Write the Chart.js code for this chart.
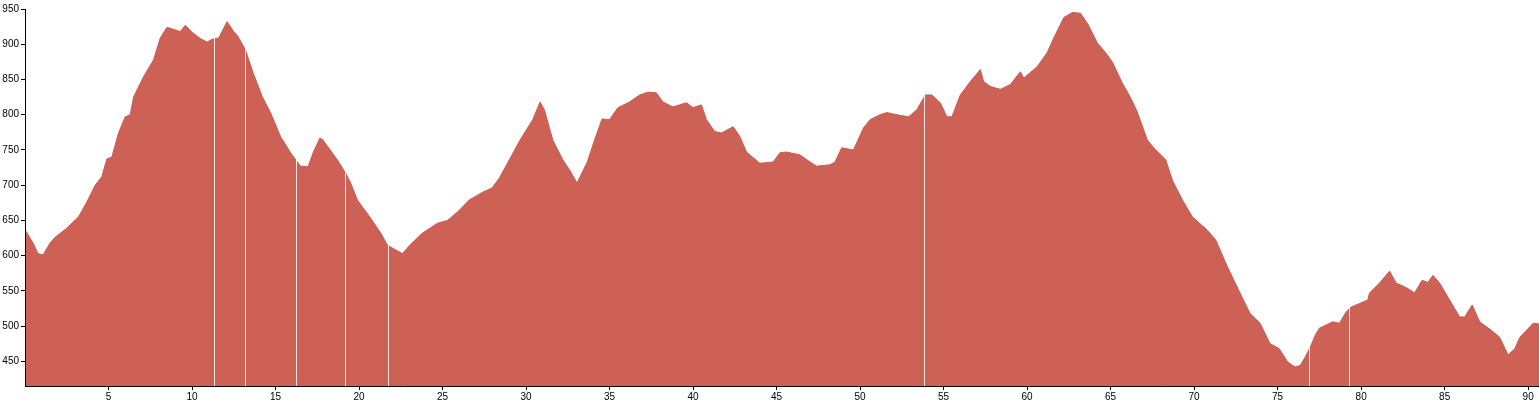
<!DOCTYPE html>
<html lang="en">
<head>
    <meta charset="UTF-8">
    <title>Elevation Profile</title>
    <script src="https://cdn.jsdelivr.net/npm/chart.js@4.4.1/dist/chart.umd.min.js"></script>
    <style>
        html, body { margin: 0; padding: 0; background: #fff; }
        #wrap { width: 1539px; height: 410px; }
    </style>
</head>
<body>
    <div id="wrap">
        <canvas id="profileChart" width="1539" height="410"></canvas>
    </div>
    <script>
// distance along the route (km)
var distKm = [
    0.0, 0.48, 0.78, 1.08, 1.5, 1.8, 2.5, 3.2, 3.7, 4.2, 4.6, 4.9, 5.2, 5.6, 6.0, 6.3, 6.5, 7.1, 7.7, 8.1,
    8.5, 9.3, 9.6, 10.0, 10.5, 10.9, 11.2, 11.6, 12.1, 12.5, 12.75, 13.2, 13.65, 14.2, 14.7, 15.3, 15.9, 16.3, 16.5, 16.95,
    17.25, 17.66, 17.84, 18.7, 19.2, 19.5, 19.9, 20.7, 21.3, 21.7, 22.2, 22.6, 23.05, 23.8, 24.7, 25.3, 25.9, 26.6, 27.4, 27.96,
    28.4, 29.0, 29.64, 30.4, 30.84, 31.1, 31.6, 32.2, 32.6, 33.05, 33.65, 34.1, 34.55, 35.0, 35.5, 36.2, 36.8, 37.3, 37.8, 38.2,
    38.8, 39.6, 40.0, 40.5, 40.8, 41.3, 41.7, 42.4, 42.8, 43.2, 44.0, 44.8, 45.2, 45.6, 46.4, 47.0, 47.4, 48.2, 48.5, 48.9,
    49.6, 50.2, 50.6, 51.2, 51.6, 52.2, 52.9, 53.4, 53.9, 54.3, 54.8, 55.2, 55.5, 56.0, 56.6, 57.2, 57.4, 57.8, 58.4, 59.0,
    59.6, 59.8, 60.6, 61.2, 61.6, 62.2, 62.7, 63.2, 63.65, 64.2, 64.8, 65.1, 65.7, 66.2, 66.6, 67.2, 67.7, 68.3, 68.7, 69.3,
    69.9, 70.8, 71.3, 72.0, 72.75, 73.35, 73.95, 74.55, 75.1, 75.6, 76.05, 76.35, 76.65, 76.95, 77.25, 77.5, 78.3, 78.7, 79.1, 79.4,
    79.9, 80.4, 80.5, 81.1, 81.7, 82.1, 82.75, 83.2, 83.65, 84.0, 84.3, 84.7, 85.3, 85.9, 86.2, 86.65, 87.1, 87.8, 88.3, 88.8,
    89.2, 89.5, 90.3, 90.7
];

// elevation (m)
var elevM = [
    637, 618, 603, 601, 618, 626, 639, 655, 676, 700, 712, 737, 740, 774, 797, 800, 825, 854, 878, 909,
    924, 918, 927, 917, 908, 903, 907, 909, 932, 918, 911, 892, 860, 826, 803, 769, 746, 733, 727, 726,
    746, 767, 764, 736, 717, 703, 679, 653, 632, 615, 608, 603, 615, 632, 646, 650, 662, 679, 690, 696,
    710, 736, 764, 793, 818, 807, 764, 736, 722, 703, 732, 764, 794, 793, 810, 818, 828, 832, 831, 818,
    811, 817, 810, 814, 793, 776, 774, 783, 769, 747, 731, 733, 746, 747, 743, 733, 727, 729, 733, 753,
    750, 781, 793, 800, 803, 800, 797, 807, 828, 828, 817, 797, 797, 828, 847, 864, 847, 840, 836, 843,
    861, 852, 868, 888, 909, 938, 945, 944, 928, 902, 885, 875, 845, 824, 804, 764, 750, 736, 707, 679,
    655, 636, 622, 584, 547, 518, 504, 475, 468, 449, 442, 444, 456, 470, 487, 497, 506, 504, 520, 527,
    532, 537, 547, 561, 578, 561, 554, 547, 565, 562, 572, 561, 537, 513, 513, 530, 506, 494, 484, 459,
    468, 484, 504, 503
];

// positions of the thin breaks in the profile (km)
var breakKm = [11.3, 13.2, 16.2, 19.15, 21.75, 53.8, 76.9, 79.3];

var xTicks = [5, 10, 15, 20, 25, 30, 35, 40, 45, 50, 55, 60, 65, 70, 75, 80, 85, 90];
var yTicks = [450, 500, 550, 600, 650, 700, 750, 800, 850, 900, 950];

var points = distKm.map(function (d, i) { return { x: d, y: elevM[i] }; });

// white break lines, painted only over the filled area
var breakLines = {
    id: 'breakLines',
    afterDatasetsDraw: function (chart) {
        var ctx = chart.ctx;
        var area = chart.chartArea;
        var xs = chart.scales.x;
        ctx.save();
        ctx.beginPath();
        ctx.rect(area.left, area.top, area.right - area.left, area.bottom - area.top);
        ctx.clip();
        ctx.globalCompositeOperation = 'source-atop';
        ctx.strokeStyle = 'rgba(255, 255, 255, 0.85)';
        ctx.lineWidth = 1;
        breakKm.forEach(function (k) {
            var px = Math.round(xs.getPixelForValue(k)) + 0.5;
            ctx.beginPath();
            ctx.moveTo(px, area.top);
            ctx.lineTo(px, area.bottom);
            ctx.stroke();
        });
        ctx.restore();
    }
};

var tickFont = { family: '"Liberation Sans", Arial, sans-serif', size: 10 };

var ctx = document.getElementById('profileChart').getContext('2d');
var profileChart = new Chart(ctx, {
    type: 'line',
    data: {
        datasets: [
            {
                label: 'Elevation',
                data: points,
                backgroundColor: '#cd6155',
                borderColor: '#c95c50',
                borderWidth: 1,
                pointRadius: 0,
                tension: 0,
                fill: 'start'
            }
        ]
    },
    options: {
        responsive: false,
        animation: false,
        events: [],
        layout: { padding: { top: 9, right: 0, left: 0, bottom: 0 } },
        plugins: {
            legend: { display: false },
            tooltip: { enabled: false }
        },
        scales: {
            x: {
                type: 'linear',
                min: 0,
                max: 90.65,
                afterBuildTicks: function (scale) {
                    scale.ticks = xTicks.map(function (v) { return { value: v }; });
                },
                afterFit: function (scale) { scale.height = 24; },
                grid: { drawOnChartArea: false, color: '#000', tickLength: 4 },
                border: { color: '#000', width: 1, z: 1 },
                ticks: { color: '#000', font: tickFont, padding: 1, maxRotation: 0, autoSkip: false }
            },
            y: {
                min: 415,
                max: 950,
                afterBuildTicks: function (scale) {
                    scale.ticks = yTicks.map(function (v) { return { value: v }; });
                },
                afterFit: function (scale) { scale.width = 25; },
                grid: { drawOnChartArea: false, color: '#000', tickLength: 4 },
                border: { color: '#000', width: 1, z: 1 },
                ticks: { color: '#000', font: tickFont, padding: 2, autoSkip: false }
            }
        }
    },
    plugins: [breakLines]
});
    </script>
</body>
</html>
